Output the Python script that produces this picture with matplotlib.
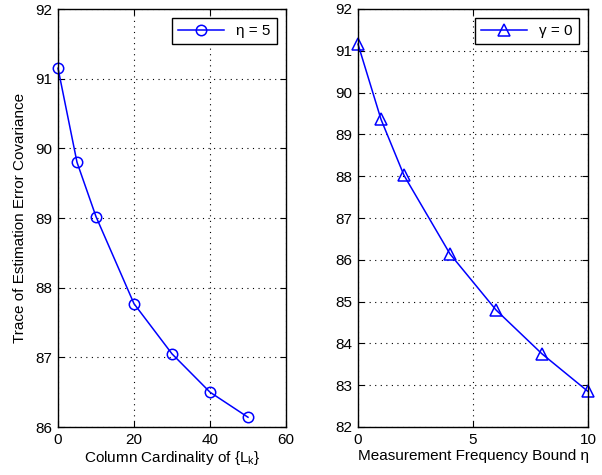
import matplotlib.pyplot as plt

plt.rcParams['font.family'] = ['Liberation Sans', 'DejaVu Sans']
plt.rcParams['mathtext.fontset'] = 'custom'
plt.rcParams['mathtext.rm'] = 'Liberation Sans'
plt.rcParams['mathtext.it'] = 'Liberation Sans'

# left panel: trace vs column cardinality (eta = 5)
card = [0, 5, 10, 20, 30, 40, 50]
trace_card = [91.15, 89.8, 89.02, 87.77, 87.05, 86.5, 86.14]
card_ticks = [0, 20, 40, 60]

# right panel: trace vs measurement frequency bound (gamma = 0)
eta = [0, 1, 2, 4, 6, 8, 10]
trace_eta = [91.16, 89.36, 88.02, 86.14, 84.8, 83.75, 82.85]
eta_ticks = [0, 5, 10]

fig = plt.figure(figsize=(6.02, 4.75), dpi=100)
ax1 = fig.add_axes([58/602, 1 - 427/475, 228/602, 418/475])
ax2 = fig.add_axes([358/602, 1 - 427/475, 230/602, 418/475])

fs = 11

ax1.plot(card, trace_card, '-o', color='blue', lw=1.1, ms=7.5, mfc='none', mew=1.1,
         label='η = 5', clip_on=False)
ax1.set_xlim(0, 60)
ax1.set_ylim(86, 92)
ax1.set_xticks(card_ticks)
ax1.set_yticks(range(86, 93))
ax1.set_xlabel('Column Cardinality of {L$_\\mathregular{k}$}', fontsize=fs, labelpad=2)
ax1.set_ylabel('Trace of Estimation Error Covariance', fontsize=fs, labelpad=6)

ax2.plot(eta, trace_eta, '-^', color='blue', lw=1.1, ms=9, mfc='none', mew=1.1,
         label='γ = 0', clip_on=False)
ax2.set_xlim(0, 10)
ax2.set_ylim(82, 92)
ax2.set_xticks(eta_ticks)
ax2.set_xticklabels([str(t) for t in eta_ticks])
ax2.set_yticks(range(82, 93))
ax2.set_xlabel('Measurement Frequency Bound η', fontsize=fs, labelpad=2)

for ax in (ax1, ax2):
    ax.grid(True, linestyle=(0, (1, 4)), color='black', lw=0.8)
    ax.tick_params(direction='in', labelsize=fs, length=4, top=True, right=True, pad=4)
    for s in ax.spines.values():
        s.set_linewidth(1)
    leg = ax.legend(loc='upper right', fontsize=fs, fancybox=False, framealpha=1,
                    edgecolor='black', handlelength=3, borderaxespad=0.6)
    leg.get_frame().set_linewidth(1)

fig.savefig('out.png', dpi=100)
